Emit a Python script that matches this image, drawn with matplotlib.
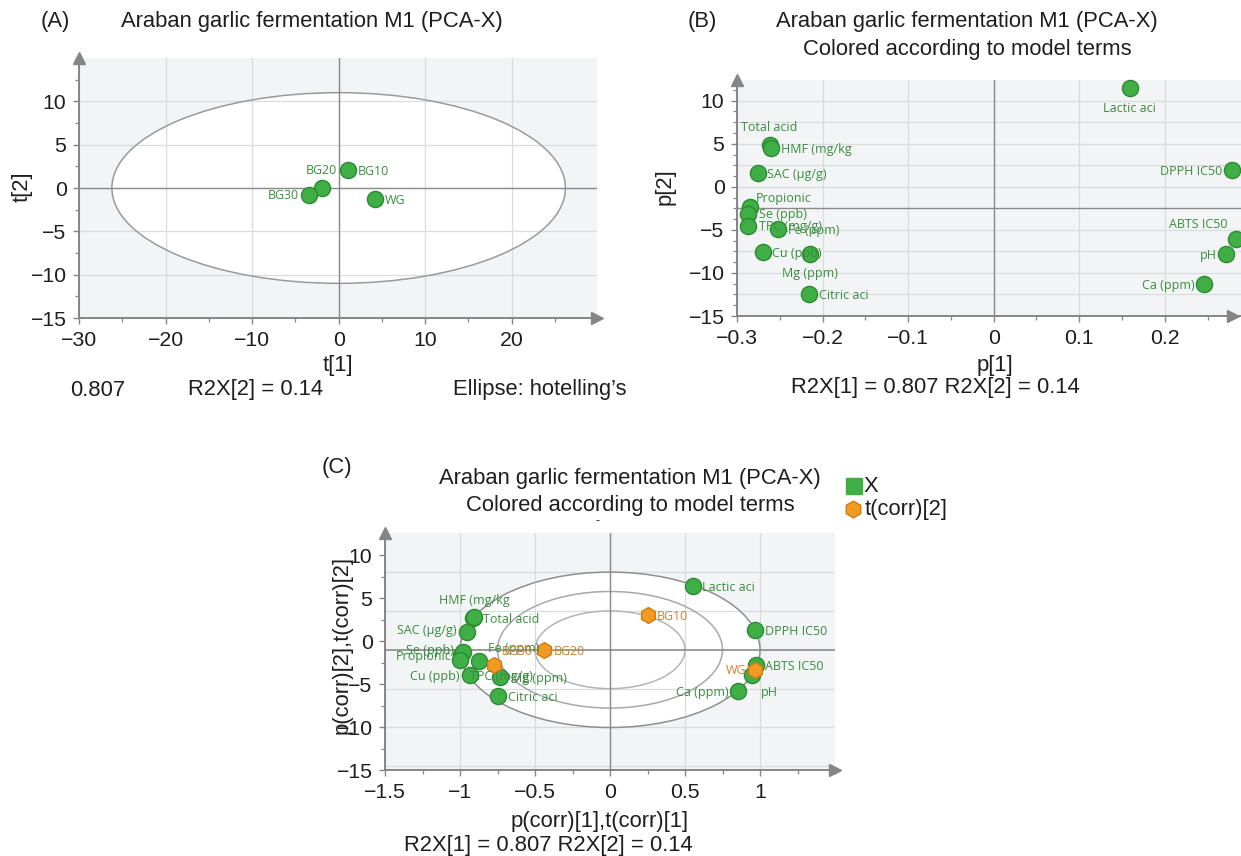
import matplotlib
matplotlib.use("Agg")
import matplotlib.pyplot as plt
from matplotlib.patches import Ellipse
from matplotlib.ticker import MultipleLocator, FuncFormatter
import numpy as np

plt.rcParams['font.family'] = ['Liberation Sans', 'DejaVu Sans']
plt.rcParams['axes.unicode_minus'] = True

W, H = 1241, 856

# ---------------- data ----------------
# Panel A: scores
a_obs = ["BG10", "BG20", "BG30", "WG"]
a_t1 = [1.13, -1.98, -3.45, 4.25]
a_t2 = [2.05, 0.04, -0.85, -1.32]
a_ellipse_semi = (26.2, 11.0)

# Panel B: loadings
b_vars = ["Lactic aci", "Total acid", "HMF (mg/kg", "SAC (µg/g)", "Propionic", "Se (ppb)",
          "TPC (mg/g)", "Fe (ppm)", "Cu (ppb)", "Mg (ppm)", "Citric aci", "DPPH IC50",
          "ABTS IC50", "pH", "Ca (ppm)"]
b_p1 = [0.159, -0.262, -0.260, -0.276, -0.285, -0.287, -0.287, -0.252, -0.270, -0.215,
        -0.216, 0.279, 0.283, 0.272, 0.246]
b_p2 = [11.5, 4.8, 4.5, 1.6, -2.4, -3.1, -4.5, -4.9, -7.6, -7.8, -12.5, 1.9, -6.1, -7.8, -11.3]

# Panel C: correlation-scaled loadings and scores
c_p1 = [0.55, -0.913, -0.905, -0.954, -0.993, -0.977, -1.0, -0.872, -0.936, -0.735,
        -0.747, 0.966, 0.970, 0.947, 0.856]
c_p2 = [6.4, 2.74, 2.85, 1.05, -1.6, -1.2, -2.2, -2.26, -3.96, -4.15, -6.43, 1.28, -2.79,
        -3.95, -5.78]
c_obs = ["BG10", "BG20", "BG30", "WG"]
c_t1 = [0.254, -0.438, -0.772, 0.966]
c_t2 = [3.02, -1.08, -2.77, -3.37]
c_center = (0.0, -1.0)
c_semi = (1.0, 9.05)
c_radii = [1.0, 0.75, 0.5]

# ---------------- styles ----------------
BG = '#f2f4f5'
GRID = '#dadddf'
AXC = '#858585'
ZERO = '#8a8a8a'
GFILL = '#3fae45'
GEDGE = '#2b8a32'
GTXT = '#3a8c3e'
OFILL = '#f39a22'
OEDGE = '#d47a12'
OTXT = '#d0812c'
LFONT = ['Open Sans', 'DejaVu Sans']
LSIZE = 9
TS = 15.8

fig = plt.figure(figsize=(W / 100, H / 100), dpi=100)


def add_ax(l, r, t, b):
    return fig.add_axes([l / W, 1 - b / H, (r - l) / W, (b - t) / H])


def ftext(x, y, s, **kw):
    kw.setdefault('fontsize', TS)
    kw.setdefault('ha', 'center')
    kw.setdefault('va', 'center')
    kw.setdefault('color', '#1e1e1e')
    fig.text(x / W, 1 - y / H, s, **kw)


fmt = FuncFormatter(lambda v, p: ('%g' % round(v, 6)).replace('-', '\u2212'))


def style_axes(ax, xmaj, xmin, ymaj, ymin, arrow_x=1.0):
    ax.set_facecolor(BG)
    for s in ['top', 'right']:
        ax.spines[s].set_visible(False)
    for s in ['left', 'bottom']:
        ax.spines[s].set_color(AXC)
        ax.spines[s].set_linewidth(1.4)
    ax.xaxis.set_major_locator(MultipleLocator(xmaj))
    ax.xaxis.set_minor_locator(MultipleLocator(xmin))
    ax.yaxis.set_major_locator(MultipleLocator(ymaj))
    ax.yaxis.set_minor_locator(MultipleLocator(ymin))
    ax.xaxis.set_major_formatter(fmt)
    ax.yaxis.set_major_formatter(fmt)
    ax.tick_params(which='major', length=4, width=1.0, color=AXC, labelsize=15.3,
                   labelcolor='#1e1e1e', pad=5)
    ax.tick_params(which='minor', length=3, width=0.9, color=AXC)
    ax.set_axisbelow(True)
    ax.plot([arrow_x], [0], marker='>', ms=9, color=AXC, transform=ax.transAxes,
            clip_on=False, zorder=6)
    ax.plot([0], [1], marker='^', ms=9, color=AXC, transform=ax.transAxes,
            clip_on=False, zorder=6)


def labels(ax, xs, ys, names, offs, color):
    for x, y, n in zip(xs, ys, names):
        dx, dy, ha = offs.get(n, (7, 0, 'left'))
        ax.annotate(n, (x, y), xytext=(dx, dy), textcoords='offset points', ha=ha,
                    va='center', fontsize=LSIZE, color=color, family=LFONT, zorder=5)


# ================= Panel A =================
axA = add_ax(79, 597, 58, 318)
axA.set_xlim(-30, 29.85)
axA.set_ylim(-15, 15)
style_axes(axA, 10, 5, 5, 2.5)
axA.set_xticks([-30, -20, -10, 0, 10, 20])
axA.set_yticks([-15, -10, -5, 0, 5, 10])
axA.grid(True, which='major', color=GRID, lw=0.9)
axA.add_patch(Ellipse((0, 0), 2 * a_ellipse_semi[0], 2 * a_ellipse_semi[1],
                      facecolor='white', edgecolor='none', zorder=0.2))
axA.add_patch(Ellipse((0, 0), 2 * a_ellipse_semi[0], 2 * a_ellipse_semi[1],
                      facecolor='none', edgecolor='#9a9a9a', lw=1.1, zorder=1.5))
axA.axhline(0, color=ZERO, lw=1.0, zorder=1.6)
axA.axvline(0, color=ZERO, lw=1.0, zorder=1.6)
axA.scatter(a_t1, a_t2, s=135, color=GFILL, edgecolor=GEDGE, lw=1.0, zorder=3)
offA = {"BG10": (7, -1, 'left'), "BG20": (11.5, 12, 'right'),
        "BG30": (-7, 0, 'right'), "WG": (7, -1, 'left')}
labels(axA, a_t1, a_t2, a_obs, offA, GTXT)

ftext(55, 22, "(A)")
ftext(312, 22, "Araban garlic fermentation M1 (PCA-X)")
ftext(338, 366, "t[1]")
ftext(22, 187, "t[2]", rotation=90)
ftext(98, 390, "0.807")
ftext(256, 390, "R2X[2] = 0.14")
ftext(540, 390, "Ellipse: hotelling\u2019s")

# ================= Panel B =================
axB = add_ax(737, 1241, 80, 316)
axB.set_xlim(-0.3, 0.289)
axB.set_ylim(-15, 12.4)
style_axes(axB, 0.1, 0.05, 5, 1.25, arrow_x=0.985)
axB.set_xticks([-0.3, -0.2, -0.1, 0, 0.1, 0.2])
axB.set_yticks([-15, -10, -5, 0, 5, 10])
axB.grid(True, which='major', axis='x', color=GRID, lw=0.9)
for yy in np.arange(-12.5, 12.5, 2.5):
    if abs(yy + 2.5) > 1e-6:
        axB.axhline(yy, color=GRID, lw=0.9, zorder=0.5)
axB.axhline(-2.5, color=ZERO, lw=1.0, zorder=1.6)
axB.axvline(0, color=ZERO, lw=1.0, zorder=1.6)
axB.scatter(b_p1, b_p2, s=135, color=GFILL, edgecolor=GEDGE, lw=1.0, zorder=3, clip_on=False)
offB = {"Lactic aci": (0, -15, 'center'), "Total acid": (0, 13, 'center'),
        "HMF (mg/kg": (7, -1, 'left'), "SAC (µg/g)": (7, -1, 'left'),
        "Propionic": (4, 6.5, 'left'), "Se (ppb)": (8, -1, 'left'),
        "TPC (mg/g)": (8, -1, 'left'), "Fe (ppm)": (7, -1, 'left'),
        "Cu (ppb)": (7, -1, 'left'), "Mg (ppm)": (0, -14, 'center'),
        "Citric aci": (7, -1, 'left'), "DPPH IC50": (-7, -1, 'right'),
        "ABTS IC50": (-27, 11, 'center'), "pH": (-7, -1, 'right'),
        "Ca (ppm)": (-7, -1, 'right')}
labels(axB, b_p1, b_p2, b_vars, offB, GTXT)

ftext(702, 22, "(B)")
ftext(967, 22, "Araban garlic fermentation M1 (PCA-X)")
ftext(967, 50, "Colored according to model terms")
ftext(995, 366, "p[1]")
ftext(665, 187, "p[2]", rotation=90)
ftext(935, 388, "R2X[1] = 0.807 R2X[2] = 0.14")

# ================= Panel C =================
axC = add_ax(385, 835, 533, 770)
axC.set_xlim(-1.5, 1.5)
axC.set_ylim(-15, 12.6)
style_axes(axC, 0.5, 0.25, 5, 2.5)
axC.set_xticks([-1.5, -1, -0.5, 0, 0.5, 1])
axC.set_yticks([-15, -10, -5, 0, 5, 10])
axC.grid(True, which='major', axis='x', color=GRID, lw=0.9)
for k in range(-3, 3):
    if k != 0:
        axC.axhline(c_center[1] + k * c_semi[1] / 2, color=GRID, lw=0.9, zorder=0.5)
axC.add_patch(Ellipse(c_center, 2 * c_semi[0], 2 * c_semi[1], facecolor='white',
                      edgecolor='none', zorder=0.2))
for r, ec in zip(c_radii, ['#8f8f8f', '#a8a8a8', '#b4b4b4']):
    axC.add_patch(Ellipse(c_center, 2 * c_semi[0] * r, 2 * c_semi[1] * r,
                          facecolor='none', edgecolor=ec, lw=1.1, zorder=1.5))
axC.axhline(c_center[1], color=ZERO, lw=1.2, zorder=1.6)
axC.axvline(0, color=ZERO, lw=1.0, zorder=1.6)
axC.scatter(c_p1, c_p2, s=135, color=GFILL, edgecolor=GEDGE, lw=1.0, zorder=3)
axC.scatter(c_t1, c_t2, s=130, marker='h', color=OFILL, edgecolor=OEDGE, lw=1.0, zorder=3.5)
offC = {"Lactic aci": (7, -1, 'left'), "Total acid": (7, -1, 'left'),
        "HMF (mg/kg": (0, 12, 'center'), "SAC (µg/g)": (-7.5, 1, 'right'),
        "Propionic": (-7, -1, 'right'), "Se (ppb)": (-7, 1, 'right'),
        "TPC (mg/g)": (7, -12, 'left'), "Fe (ppm)": (6, 9, 'left'),
        "Cu (ppb)": (-7, -1, 'right'), "Mg (ppm)": (8, -1, 'left'),
        "Citric aci": (7, -1, 'left'), "DPPH IC50": (7, -1, 'left'),
        "ABTS IC50": (7, -1, 'left'), "pH": (6, -12.5, 'left'),
        "Ca (ppm)": (-7, -1, 'right')}
labels(axC, c_p1, c_p2, b_vars, offC, GTXT)
offCo = {"BG10": (6.5, -1, 'left'), "BG20": (7, -1, 'left'),
         "BG30": (5.5, 10, 'left'), "WG": (-6, 0, 'right')}
labels(axC, c_t1, c_t2, c_obs, offCo, OTXT)

ftext(337, 468, "(C)")
ftext(630, 478, "Araban garlic fermentation M1 (PCA-X)")
ftext(630, 505, "Colored according to model terms")
ftext(597, 521, "-", fontsize=9)
ftext(600, 822, "p(corr)[1],t(corr)[1]")
ftext(548, 846, "R2X[1] = 0.807 R2X[2] = 0.14")
ftext(342, 645, "p(corr)[2],t(corr)[2]", rotation=90)

# legend
fig.patches.append(matplotlib.patches.Rectangle(((846) / W, 1 - 494 / H), 16 / W, 16 / H,
                                                transform=fig.transFigure, color=GFILL,
                                                figure=fig))
ftext(864, 486, "X", ha='left')
fig.add_artist(matplotlib.lines.Line2D([853 / W], [1 - 509 / H], marker='h', ms=12,
                                       color=OFILL, markeredgecolor=OEDGE,
                                       transform=fig.transFigure))
ftext(865, 509, "t(corr)[2]", ha='left')

fig.savefig("out.png", dpi=100)
